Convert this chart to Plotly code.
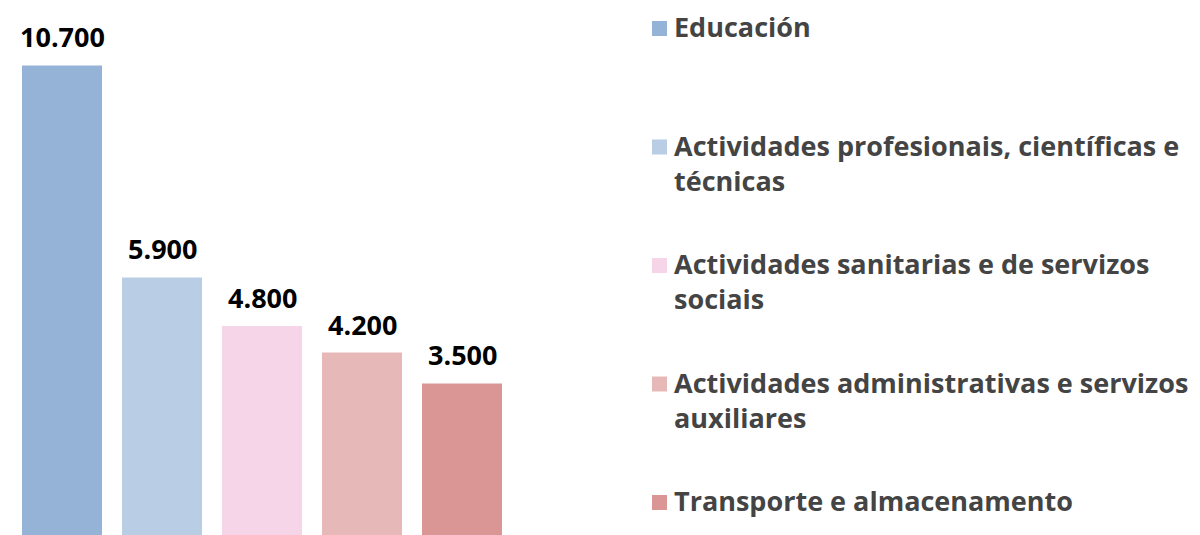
import plotly.graph_objects as go

categories = [
    "Educación",
    "Actividades profesionais, científicas e técnicas",
    "Actividades sanitarias e de servizos sociais",
    "Actividades administrativas e servizos auxiliares",
    "Transporte e almacenamento",
]
legend_labels = [
    "Educación",
    "Actividades profesionais, científicas e<br>técnicas",
    "Actividades sanitarias e de servizos<br>sociais",
    "Actividades administrativas e servizos<br>auxiliares",
    "Transporte e almacenamento",
]
values = [10700, 5900, 4800, 4200, 3500]
colors = ["#95b3d7", "#b9cde5", "#f6d5e9", "#e6b9b8", "#d99694"]

FONT = "Open Sans"
W, H = 1200, 535
L, B = 4, 5
PW = 500
R = W - L - PW
PH = H - B


def px_x(px):
    return (px - L) / PW


def px_y(py):
    return 1 - py / PH


fig = go.Figure()
fig.add_trace(go.Bar(
    x=categories, y=values, marker=dict(color=colors, line=dict(width=0)),
    showlegend=False, hoverinfo="skip",
))

for c, v in zip(categories, values):
    fig.add_annotation(
        x=c, y=v, text=f"{v:,}".replace(",", "."), showarrow=False,
        yanchor="bottom", yshift=8,
        font=dict(family=FONT, size=27, color="#000000", weight="bold"),
    )

# manual legend
LEG_FONT = 27
for i, (lab, col) in enumerate(zip(legend_labels, colors)):
    cy = 20.5 + 118.5 * i
    fig.add_shape(
        type="rect", xref="paper", yref="paper",
        x0=px_x(644), x1=px_x(659), y0=px_y(cy - 7.5), y1=px_y(cy + 7.5),
        fillcolor=col, line=dict(width=0),
    )
    fig.add_annotation(
        xref="paper", yref="paper", x=px_x(664), y=px_y(cy - 22.5),
        xanchor="left", yanchor="top", align="left", showarrow=False,
        text=lab,
        font=dict(family=FONT, size=LEG_FONT, color="#444444", weight="bold"),
    )

fig.update_layout(
    width=W, height=H,
    margin=dict(l=L, r=R, t=0, b=B, autoexpand=False),
    paper_bgcolor="white", plot_bgcolor="white",
    bargap=0.2,
    showlegend=False,
    xaxis=dict(visible=False, range=[-0.5, 4.5]),
    yaxis=dict(visible=False, range=[0, 12000]),
)
fig.write_html("out.html")
